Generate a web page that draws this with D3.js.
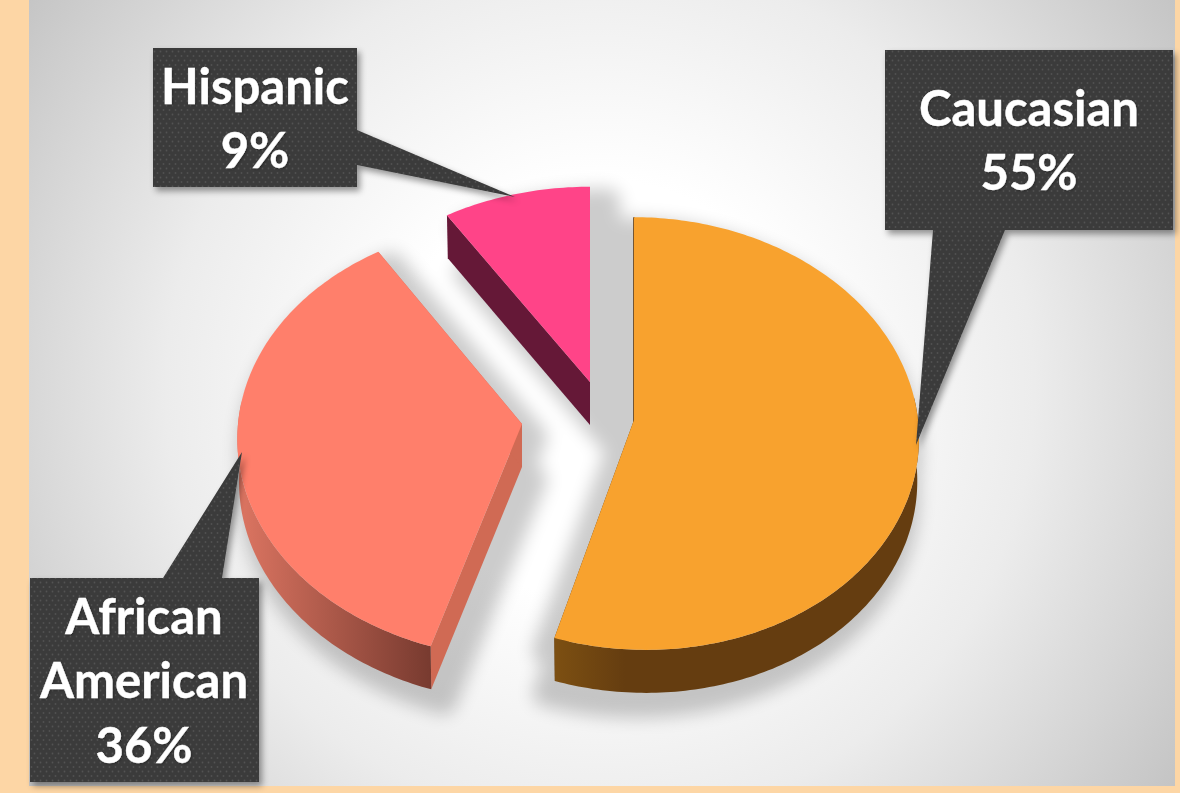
<!DOCTYPE html>
<html><head><meta charset="utf-8">
<script src="https://cdnjs.cloudflare.com/ajax/libs/d3/7.8.5/d3.min.js"></script>
<style>html,body{margin:0;padding:0;background:#fdd6a5;overflow:hidden}svg{display:block}</style>
</head><body><svg id="c" width="1180" height="793"></svg>
<script>
// ---- data ----
const categories = ["Caucasian", "African American", "Hispanic"];
const values = [55, 36, 9];
const topColors = ["#f8a22e", "#ff7f6b", "#ff4488"];
const cutColors = ["#5f3a10", "#d06a54", "#651837"];
const labelLines = [["Caucasian"], ["African", "American"], ["Hispanic"]];

// ---- layout ----
const W = 1180, H = 793;
const center = [590, 410];
const slicePos = [
  {dx: 44, dy: 10, rx: 278, skew: 6, a: 215.5, p: 0.0626, sh: [-10, 13]},
  {dx: -68, dy: 14, rx: 286, skew: 2, a: 217, p: 0.0755, sh: [13, 13]},
  {dx: 0, dy: -28, rx: 284, skew: 0, a: 210, p: 0.0755, sh: [18, 14]}
];
const DEPTH = 43;
const callouts = [
  {box: [885, 50, 288, 180], tail: [[933, 230], [916, 445], [1005, 230]], cx: 1029, base: [126, 190], fs: 49},
  {box: [30, 578, 229, 204], tail: [[163, 578], [242, 452], [222, 578]], cx: 144, base: [634, 698, 763], fs: 49},
  {box: [153, 48, 204, 139], tail: [[357, 130], [515, 197], [357, 165]], cx: 255, base: [104, 168], fs: 49}
];

const svg = d3.select("#c");
const defs = svg.append("defs");

const bg = defs.append("radialGradient").attr("id", "bg").attr("gradientUnits", "userSpaceOnUse")
  .attr("cx", 600).attr("cy", 390).attr("r", 700);
[[0.3, "#ffffff"], [0.62, "#ececec"], [1, "#c4c4c4"]].forEach(s =>
  bg.append("stop").attr("offset", s[0]).attr("stop-color", s[1]));

const pat = defs.append("pattern").attr("id", "dots").attr("patternUnits", "userSpaceOnUse")
  .attr("width", 6).attr("height", 9);
pat.append("rect").attr("width", 6).attr("height", 9).attr("fill", "#3b3b3b");
pat.append("circle").attr("cx", 1.5).attr("cy", 2).attr("r", 0.9).attr("fill", "#525252");
pat.append("circle").attr("cx", 4.5).attr("cy", 6.5).attr("r", 0.9).attr("fill", "#525252");

const blur = defs.append("filter").attr("id", "blur").attr("x", "-30%").attr("y", "-30%").attr("width", "160%").attr("height", "160%");
blur.append("feGaussianBlur").attr("stdDeviation", 8.5);

const ds = defs.append("filter").attr("id", "ds").attr("x", "-20%").attr("y", "-20%").attr("width", "140%").attr("height", "140%");
ds.append("feDropShadow").attr("dx", 3).attr("dy", 4).attr("stdDeviation", 3).attr("flood-color", "#000").attr("flood-opacity", 0.4);
const ts = defs.append("filter").attr("id", "ts").attr("x", "-10%").attr("y", "-20%").attr("width", "120%").attr("height", "140%");
ts.append("feDropShadow").attr("dx", 1).attr("dy", 1).attr("stdDeviation", 1).attr("flood-color", "#000").attr("flood-opacity", 0.3);

// wall gradients
const g0 = defs.append("linearGradient").attr("id", "wall0").attr("gradientUnits", "userSpaceOnUse")
  .attr("x1", 553).attr("x2", 625).attr("y1", 0).attr("y2", 0);
g0.append("stop").attr("offset", 0).attr("stop-color", "#7d5012");
g0.append("stop").attr("offset", 1).attr("stop-color", "#653d10");
const g1 = defs.append("linearGradient").attr("id", "wall1").attr("gradientUnits", "userSpaceOnUse")
  .attr("x1", 245).attr("x2", 432).attr("y1", 0).attr("y2", 0);
g1.append("stop").attr("offset", 0).attr("stop-color", "#d97360");
g1.append("stop").attr("offset", 1).attr("stop-color", "#773a2f");

svg.append("rect").attr("width", W).attr("height", H).attr("fill", "#fdd6a5");
svg.append("rect").attr("x", 29).attr("y", 0).attr("width", 1146).attr("height", 786).attr("fill", "url(#bg)");

// pie angles via d3.pie
const pie = d3.pie().sort(null).value(d => d)(values);

// perspective projection of a disc, v = cos(angle) away from viewer
function project(a, r, i, drop) {
  const p = slicePos[i];
  const u = Math.sin(a) * r, v = Math.cos(a) * r;
  const s = 1 / (1 + p.p * v);
  const k = drop ? 0.994 : 1;
  return [
    center[0] + p.dx + (p.rx * u * s + p.skew * (r - v)) * k,
    center[1] + p.dy - p.a * v * s + (drop ? DEPTH : 0)
  ];
}
const closed = d3.line().curve(d3.curveLinearClosed);
function rimAngles(d) {
  const n = Math.ceil((d.endAngle - d.startAngle) * 60);
  return d3.range(n + 1).map(t => d.startAngle + (d.endAngle - d.startAngle) * t / n);
}
function rim(d, i, drop) { return rimAngles(d).map(a => project(a, 1, i, drop)); }
function apex(i, drop) { return project(0, 0, i, drop); }
function quadsPath(a, b) { return closed(a.concat(b.slice().reverse())); }

// shadows
const shG = svg.append("g").attr("filter", "url(#blur)").attr("opacity", 0.2);
pie.forEach((d, i) => {
  const path = closed(rim(d, i, true).concat([apex(i, true)]));
  const top = closed(rim(d, i, false).concat([apex(i, false)]));
  [path, top].forEach(pp => shG.append("path").attr("d", pp)
    .attr("transform", `translate(${slicePos[i].sh})`)
    .attr("fill", "#000").attr("stroke", "#000").attr("stroke-width", 24).attr("stroke-linejoin", "round"));
});

// slices
pie.forEach((d, i) => {
  const g = svg.append("g");
  const top = rim(d, i, false), bot = rim(d, i, true);
  const ap = apex(i, false), apB = apex(i, true);
  // cut walls first, outer wall in front of them
  g.append("path").attr("d", quadsPath([ap, top[0]], [apB, bot[0]])).attr("fill", cutColors[i])
    .attr("stroke", i === 0 ? cutColors[i] : "none").attr("stroke-width", 1.6);
  g.append("path").attr("d", quadsPath([ap, top[top.length - 1]], [apB, bot[bot.length - 1]])).attr("fill", cutColors[i]);
  // only the near part of the rim can be seen
  const front = rimAngles(d).filter(a => Math.cos(a) < 0.12);
  if (front.length) {
    g.append("path").attr("d", quadsPath(front.map(a => project(a, 1, i, false)), front.map(a => project(a, 1, i, true))))
      .attr("fill", `url(#wall${i})`);
  }
  // top face
  g.append("path").attr("d", closed(top.concat([ap]))).attr("fill", topColors[i]);
});

// callouts
function boxPath(c) {
  const [x, y, w, h] = c.box, t = c.tail;
  const pts = [[x, y]];
  if (t[0][1] === y) pts.push(t[0], t[1], t[2]);
  pts.push([x + w, y]);
  if (t[0][0] === x + w) pts.push(t[0], t[1], t[2]);
  pts.push([x + w, y + h]);
  if (t[0][1] === y + h) pts.push(t[2], t[1], t[0]);
  pts.push([x, y + h]);
  return pts;
}
callouts.forEach((c, i) => {
  svg.append("path")
    .attr("d", closed(boxPath(c)))
    .attr("fill", "url(#dots)").attr("filter", "url(#ds)");
  const lines = labelLines[i].concat([d3.format(".0f")(values[i]) + "%"]);
  svg.append("g").attr("filter", "url(#ts)").selectAll("text").data(lines).join("text")
    .attr("x", c.cx).attr("y", (t, j) => c.base[j])
    .attr("text-anchor", "middle").attr("fill", "#fff").attr("stroke", "#fff").attr("stroke-width", 0.4)
    .attr("font-family", "Lato, 'Open Sans', sans-serif").attr("font-weight", 700)
    .attr("font-size", c.fs).text(t => t);
});
</script></body></html>
